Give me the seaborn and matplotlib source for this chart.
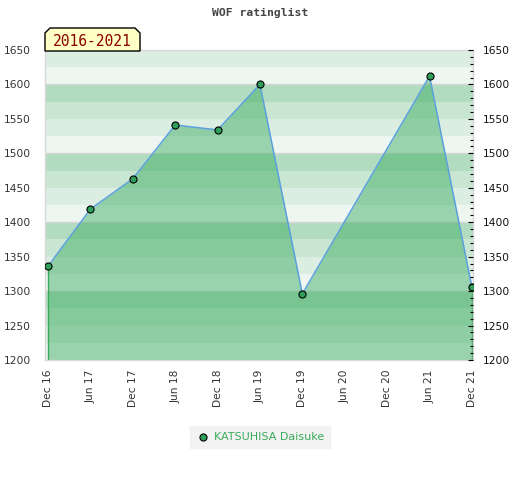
import matplotlib
matplotlib.use("Agg")
import matplotlib.pyplot as plt
import seaborn as sns
import pandas as pd
import numpy as np
from matplotlib.patches import Polygon

# ---- data ----
dates = ["2016-12", "2017-06", "2017-12", "2018-06", "2018-12", "2019-06",
         "2019-12", "2021-06", "2021-12"]
ratings = [1336, 1419, 1463, 1541, 1534, 1600, 1296, 1612, 1306]
tick_dates = ["2016-12", "2017-06", "2017-12", "2018-06", "2018-12", "2019-06",
              "2019-12", "2020-06", "2020-12", "2021-06", "2021-12"]
tick_labels = ["Dec 16", "Jun 17", "Dec 17", "Jun 18", "Dec 18", "Jun 19",
               "Dec 19", "Jun 20", "Dec 20", "Jun 21", "Dec 21"]
player = "KATSUHISA Daisuke"
title = "WOF ratinglist"
period = "2016-2021"
y_min, y_max = 1200, 1650


def month_index(s):
    d = pd.to_datetime(s)
    return (d.year - 2016) * 12 + d.month - 12


df = pd.DataFrame({"m": [month_index(d) for d in dates], "rating": ratings})
tick_pos = [month_index(d) for d in tick_dates]

sns.set_theme(style="white")
plt.rcParams["font.family"] = ["DejaVu Sans"]

W, H = 520, 480
fig = plt.figure(figsize=(W / 100, H / 100), dpi=100)
L, R, T, B = 45, 473, 50, 360
ax = fig.add_axes([L / W, 1 - B / H, (R - L) / W, (B - T) / H])

# background bands
band_cols = ["#eef6f1", "#dcede2", "#c8e6d2", "#b2dcc0"]
for lo in range(y_min, y_max, 25):
    ax.axhspan(lo, lo + 25, color=band_cols[(lo % 100) // 25], lw=0, zorder=0)
for yv in range(y_min, y_max + 1, 100):
    ax.axhline(yv, color="#d6d6d6", lw=1, zorder=0.5)

# area + line + markers
ax.fill_between(df["m"], df["rating"], y_min, color=(50/255, 170/255, 90/255),
                alpha=0.45, lw=0, zorder=1)
ax.vlines([df["m"].iloc[0], df["m"].iloc[-1]], y_min,
          [df["rating"].iloc[0], df["rating"].iloc[-1]],
          color="#3aaa5a", lw=1, zorder=2)
sns.lineplot(data=df, x="m", y="rating", ax=ax, color="#5aa0dc", lw=1.1,
             zorder=3, legend=False)
sns.scatterplot(data=df, x="m", y="rating", ax=ax, color="#2e9e5a",
                edgecolor="black", linewidth=0.8, s=26, zorder=4,
                label=player, legend=False)

ax.set_xlim(-3 / 7.067, 60 + 1.1 / 7.067)
ax.set_ylim(y_min, y_max)
ax.set_xlabel("")
ax.set_ylabel("")
ax.set_xticks(tick_pos)
ax.set_xticklabels(tick_labels, rotation=90, fontsize=7.7, color="#333333")
yt = list(range(y_min, y_max + 1, 50))
ax.set_yticks(yt)
ax.set_yticklabels([str(v) for v in yt], fontsize=7.7, color="#333333")
ax.tick_params(axis="y", length=0, pad=10)
ax.tick_params(axis="x", length=0, pad=7)
for s in ax.spines.values():
    s.set_color("#d8d8d8")
    s.set_linewidth(1)

# right axis
ax2 = ax.twinx()
ax2.set_ylim(y_min, y_max)
ax2.set_yticks(yt)
ax2.set_yticklabels([str(v) for v in yt], fontsize=7.7, color="#111111")
ax2.set_yticks(list(range(y_min, y_max + 1, 10)), minor=True)
ax2.tick_params(axis="y", which="major", direction="in", length=3.5, width=0.8,
                color="black", pad=7)
ax2.tick_params(axis="y", which="minor", direction="in", length=2.5, width=0.8,
                color="black")
for s in ax2.spines.values():
    s.set_visible(False)
ax2.grid(False)

# title
fig.text(0.5, 1 - 13 / H, title, ha="center", va="center",
         family="DejaVu Sans Mono", fontweight="bold", fontsize=8.2,
         color="#444444")

# period label box with chamfered corners
bx0, bx1, by0, by1, c = 45, 140, 51, 28, 5
pts = [(bx0, by0), (bx0, by1 + c), (bx0 + c, by1), (bx1 - c, by1),
       (bx1, by1 + c), (bx1, by0)]
poly = Polygon([(x / W, 1 - y / H) for x, y in pts], closed=True,
               transform=fig.transFigure, facecolor="#ffffc6",
               edgecolor="black", lw=1, zorder=10)
fig.patches.append(poly)
fig.text((bx0 + bx1) / 2 / W, 1 - 41 / H, period, ha="center", va="center",
         family="DejaVu Sans Mono", fontsize=10.5, color="#8b0000", zorder=11)

# legend
leg = fig.legend(handles=ax.collections[-1:], labels=[player],
                 loc="center", bbox_to_anchor=(260 / W, 1 - 437 / H),
                 frameon=True, fontsize=8, handletextpad=0.3,
                 borderpad=0.5, handlelength=1.3, fancybox=False)
leg.get_frame().set_facecolor("#f0f0f0")
leg.get_frame().set_edgecolor("#f0f0f0")
for t in leg.get_texts():
    t.set_color("#3aaa5a")

fig.savefig("out.png", dpi=100)
